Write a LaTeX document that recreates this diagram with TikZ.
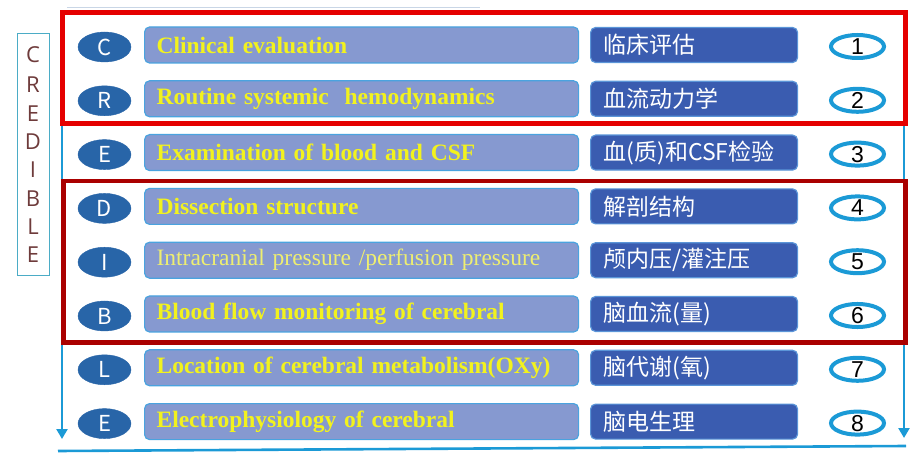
\documentclass[tikz,border=0pt]{standalone}
\usepackage{fontspec}
\setmainfont{Liberation Serif}
\newfontfamily\cjk{Noto Sans CJK SC}
\newfontfamily\osans{Open Sans}
\newfontfamily\lsans{Liberation Sans}
\usetikzlibrary{arrows.meta,shapes.geometric}
\definecolor{lblue}{HTML}{1B9AD6}
\definecolor{redA}{HTML}{E50000}
\definecolor{redB}{HTML}{AA0000}
\definecolor{letfill}{HTML}{2865A8}
\definecolor{enfill}{HTML}{8699D0}
\definecolor{enedge}{HTML}{4AA3DF}
\definecolor{entext}{HTML}{F2F21E}
\definecolor{entextl}{HTML}{EEEE70}
\definecolor{cnfill}{HTML}{3A5CB0}
\definecolor{cnedge}{HTML}{5B95D8}
\definecolor{credc}{HTML}{6E3B3B}
\definecolor{credbox}{HTML}{4BACC6}
\definecolor{faint}{HTML}{C9D6E6}
\tikzset{
  letterbox/.style={ellipse, fill=letfill, draw=letfill, minimum width=53pt, minimum height=30pt, inner sep=0pt, text=white, font=\cjk\fontsize{22}{24}\selectfont},
  enbox/.style={rectangle, rounded corners=5pt, fill=enfill, draw=enedge, line width=1.2pt, minimum width=434pt, minimum height=36pt, text width=410pt, align=left, inner xsep=12pt, inner ysep=0pt, anchor=west, text=entext, font=\fontsize{23.5}{26}\selectfont\bfseries},
  cnbox/.style={rectangle, rounded corners=5pt, fill=cnfill, draw=cnedge, line width=1.2pt, minimum width=207pt, minimum height=35pt, text width=181pt, align=left, inner xsep=13pt, inner ysep=0pt, anchor=west, text=white, font=\cjk\fontsize{23}{25}\selectfont},
  numbox/.style={ellipse, draw=lblue, line width=4pt, fill=white, minimum width=53pt, minimum height=23pt, inner sep=0pt, text=black, font=\lsans\fontsize{23}{24}\selectfont},
  credl/.style={text=credc, font=\osans\fontsize{22}{24}\selectfont, inner sep=0pt},
  flow/.style={draw=lblue, line width=2.6pt},
  flowarrow/.style={flow, -{Triangle[length=10pt,width=11pt]}},
}
\begin{document}
\begin{tikzpicture}[x=1pt,y=-1pt]
\useasboundingbox (0,0) rectangle (914,457);
% faint top line
\draw[draw=faint, line width=1pt] (67,8) -- (480,8);
% CREDIBLE
\draw[draw=credbox, line width=1pt] (17,34) rectangle (49,276);
\node[credl] (c1) at (33,55) {C};
\node[credl] (c2) at (33,85) {R};
\node[credl] (c3) at (33,114) {E};
\node[credl] (c4) at (33,142) {D};
\node[credl] (c5) at (33,170) {I};
\node[credl] (c6) at (33,199) {B};
\node[credl] (c7) at (33,227) {L};
\node[credl] (c8) at (33,255) {E};
% flow lines
\coordinate (lt) at (62,14);
\coordinate (lb) at (62,439);
\coordinate (rt) at (904,120);
\coordinate (rb) at (904,438);
\coordinate (bl) at (58,451);
\coordinate (br) at (906,446);
\draw[flowarrow] (lt) -- (lb);
\draw[flowarrow] (rt) -- (rb);
\draw[flow] (bl) -- (br);
% red frames
\draw[draw=redA, line width=4.5pt] (62.5,12.5) rectangle (905.5,123.5);
\draw[draw=redB, line width=4.5pt] (63.5,181) rectangle (905.5,342.5);
% rows
\node[letterbox] (L1) at (104.5,47) {C};
\node[letterbox] (L2) at (104.5,100.8) {R};
\node[letterbox] (L3) at (104.5,154.6) {E};
\node[letterbox] (L4) at (104.5,208.4) {D};
\node[letterbox] (L5) at (104.5,262.2) {I};
\node[letterbox] (L6) at (104.5,316) {B};
\node[letterbox] (L7) at (104.5,369.8) {L};
\node[letterbox] (L8) at (104.5,423.6) {E};
\node[enbox] (E1) at (144,45) {Clinical evaluation};
\node[enbox] (E2) at (144,98.8) {Routine systemic\ \ hemodynamics};
\node[enbox] (E3) at (144,152.6) {Examination of blood and CSF};
\node[enbox] (E4) at (144,206.4) {Dissection structure};
\node[enbox, text=entextl, font=\fontsize{23.5}{26}\selectfont] (E5) at (144,260.2) {Intracranial pressure /perfusion pressure};
\node[enbox] (E6) at (144,314) {Blood flow monitoring of cerebral};
\node[enbox] (E7) at (144,367.8) {Location of cerebral metabolism(OXy)};
\node[enbox] (E8) at (144,421.6) {Electrophysiology of cerebral};
\node[cnbox] (Z1) at (590,45) {临床评估};
\node[cnbox] (Z2) at (590,98.8) {血流动力学};
\node[cnbox] (Z3) at (590,152.6) {血(质)和CSF检验};
\node[cnbox] (Z4) at (590,206.4) {解剖结构};
\node[cnbox] (Z5) at (590,260.2) {颅内压/灌注压};
\node[cnbox] (Z6) at (590,314) {脑血流(量)};
\node[cnbox] (Z7) at (590,367.8) {脑代谢(氧)};
\node[cnbox] (Z8) at (590,421.6) {脑电生理};
\node[numbox] (N1) at (857.5,46.5) {1};
\node[numbox] (N2) at (857.5,100.3) {2};
\node[numbox] (N3) at (857.5,154.1) {3};
\node[numbox] (N4) at (857.5,207.9) {4};
\node[numbox] (N5) at (857.5,261.7) {5};
\node[numbox] (N6) at (857.5,315.5) {6};
\node[numbox] (N7) at (857.5,369.3) {7};
\node[numbox] (N8) at (857.5,423.1) {8};
\end{tikzpicture}
\end{document}
